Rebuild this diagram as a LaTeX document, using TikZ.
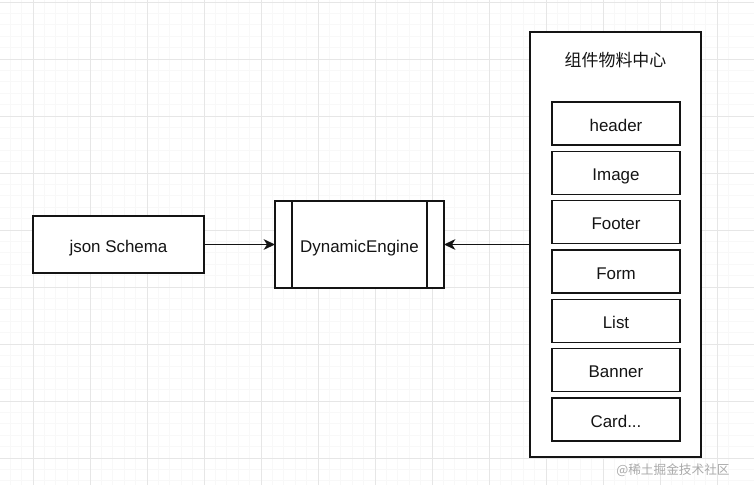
\documentclass[tikz,border=0pt]{standalone}
\usepackage{fontspec}
\setmainfont{Liberation Sans}
\newfontfamily\cjkfont{Noto Sans CJK SC}
\usepackage{xcolor}
\usetikzlibrary{arrows.meta, positioning, calc}
\definecolor{gridmajor}{RGB}{230, 230, 230}
\definecolor{gridminor}{RGB}{248, 248, 248}
\definecolor{inkblack}{RGB}{20, 20, 20}
\definecolor{markgray}{RGB}{170, 170, 170}

\begin{document}
\begin{tikzpicture}[
    x=0.75pt, y=-0.75pt,
    every node/.style={font=\fontsize{12.7}{15}\selectfont, text=inkblack},
    box/.style={rectangle, draw=inkblack, line width=1.1pt, fill=white, minimum width=128.25pt, minimum height=42.75pt, inner sep=0pt, outer sep=0pt, text height=11.5pt, text depth=0pt},
    engine/.style={box, minimum width=126.75pt, minimum height=65.25pt},
    holder/.style={box, minimum width=128.25pt, minimum height=318.75pt},
    item/.style={box, minimum width=96pt, minimum height=32.25pt},
    arrow/.style={-{Stealth[length=8.5pt, width=8pt, inset=2.5pt]}, line width=1.1pt, draw=inkblack}
]
\useasboundingbox (0,0) rectangle (754,485);
\fill[white] (0,0) rectangle (754,485);

% Background grid
\foreach \gx in {0,...,66} {
  \draw[gridminor, line width=0.5pt] ({-24+11.4*\gx},0) -- ({-24+11.4*\gx},485);
}
\foreach \gy in {0,...,43} {
  \draw[gridminor, line width=0.5pt] (0,{2+11.4*\gy}) -- (754,{2+11.4*\gy});
}
\foreach \gx in {0,...,13} {
  \draw[gridmajor, line width=0.7pt] ({-24+57*\gx},0) -- ({-24+57*\gx},485);
}
\foreach \gy in {0,...,8} {
  \draw[gridmajor, line width=0.7pt] (0,{2+57*\gy}) -- (754,{2+57*\gy});
}

% Input and engine
\node[box] (json) at (118.5,244.5) {json Schema};
\node[engine] (engine) at (359.5,244.5) {DynamicEngine};
\draw[line width=1.1pt, inkblack] ([xshift=12.75pt]engine.north west) -- ([xshift=12.75pt]engine.south west);
\draw[line width=1.1pt, inkblack] ([xshift=-12.75pt]engine.north east) -- ([xshift=-12.75pt]engine.south east);

% Component library
\node[holder] (lib) at (615.5,244.5) {};
\node (title) at ([yshift=-21pt]lib.north) {\cjkfont 组件物料中心};
\node[item] (header) at (616,123.5) {header};
\node[item, below=4.75pt of header] (image) {Image};
\node[item, below=4.75pt of image] (footer) {Footer};
\node[item, below=4.75pt of footer] (form) {Form};
\node[item, below=4.75pt of form] (list) {List};
\node[item, below=4.75pt of list] (banner) {Banner};
\node[item, below=4.75pt of banner] (card) {Card...};

% Arrows
\draw[arrow] (json) -- (engine);
\draw[arrow] (lib.west) -- (engine.east);

% Watermark
\node[font=\cjkfont\fontsize{9.5}{11}\selectfont, text=markgray] (mark) at (673,470) {@稀土掘金技术社区};

\end{tikzpicture}
\end{document}
